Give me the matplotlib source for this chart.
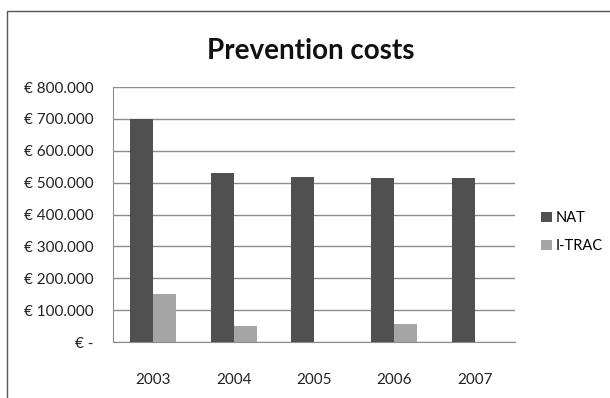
import matplotlib.pyplot as plt
import numpy as np
from matplotlib.patches import Rectangle

# data
years = ['2003', '2004', '2005', '2006', '2007']
nat = [700000, 530000, 517000, 514000, 516000]
itrac = [150000, 50000, 0, 55000, 0]
yticks = [0, 100000, 200000, 300000, 400000, 500000, 600000, 700000, 800000]

plt.rcParams['font.family'] = ['Lato', 'DejaVu Sans']

fig = plt.figure(figsize=(6.10, 3.98), dpi=100)
ax = fig.add_axes([0.1852, 0.1407, 0.6591, 0.6407])

# outer chart border (cropped screenshot look)
fig.patches.append(Rectangle((7 / 610, -0.1), 1.2, 1 - 11 / 398 + 0.1,
                             transform=fig.transFigure, fill=False,
                             edgecolor='#555555', linewidth=1.0))

x = np.arange(len(years))
w = 0.286
ax.bar(x - w / 2, nat, w, color='#505050', label='NAT', zorder=3)
ax.bar(x + w / 2, itrac, w, color='#a5a5a5', label='I-TRAC', zorder=3)

ax.set_xlim(-0.5, len(years) - 0.5)
ax.set_ylim(0, 800000)
ax.set_yticks(yticks)


def fmt(v):
    if v == 0:
        return '€ -'
    return '€ ' + f'{v:,.0f}'.replace(',', '.')


ax.set_yticklabels([fmt(v) for v in yticks])
ax.set_xticks(x)
ax.set_xticklabels(years)
ax.tick_params(axis='x', length=0, pad=22, labelsize=11, labelcolor='#222222')
ax.tick_params(axis='y', length=0, pad=14, labelsize=11, labelcolor='#222222')

ax.yaxis.grid(True, color='#8c8c8c', linewidth=1.0, zorder=0)
for s in ['top', 'right']:
    ax.spines[s].set_visible(False)
ax.spines['left'].set_color('#8c8c8c')
ax.spines['bottom'].set_color('#8c8c8c')

fig.text(0.509, 0.872, 'Prevention costs', ha='center', va='center',
         fontsize=20, fontweight='bold', color='#111111')

fig.legend(loc='center left', bbox_to_anchor=(0.866, 0.417), frameon=False,
           fontsize=10.5, handlelength=0.7, handleheight=0.7,
           handletextpad=0.3, labelspacing=1.0)

fig.savefig('out.png', dpi=100)
